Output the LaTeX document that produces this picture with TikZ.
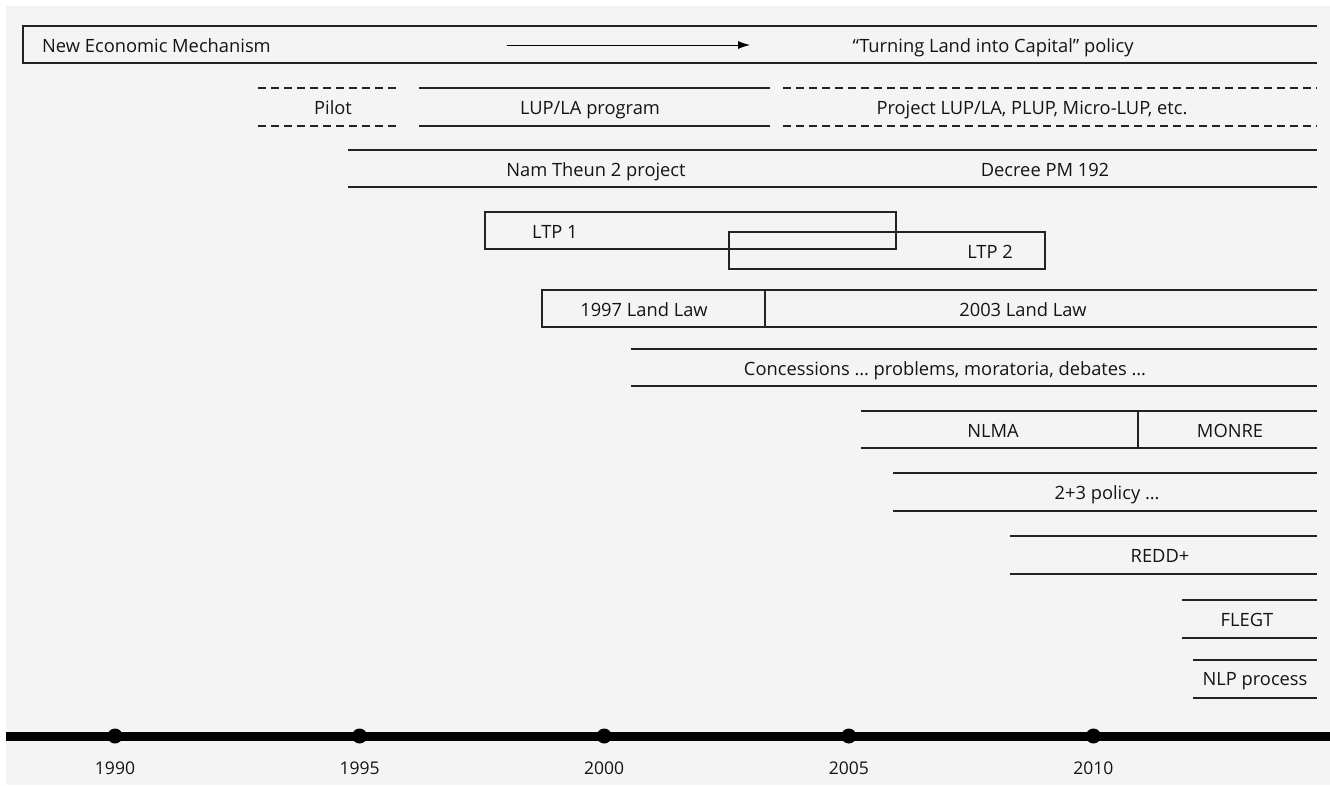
\documentclass[tikz,border=0pt]{standalone}
\usepackage{fontspec}
\setmainfont{Open Sans}
\usepackage{xcolor}
\usetikzlibrary{arrows.meta, positioning}
\definecolor{bggray}{RGB}{244, 244, 244}
\definecolor{inkdark}{RGB}{20, 20, 20}
\definecolor{linedark}{RGB}{35, 35, 35}

\tikzset{
    bar/.style={draw=linedark, line width=1.6pt},
    dashbar/.style={bar, dash pattern=on 8pt off 5pt},
    lbl/.style={font=\fontsize{18.3}{22}\selectfont, text=inkdark, inner sep=0pt, anchor=base},
    yearlbl/.style={lbl, font=\fontsize{17.5}{21}\selectfont},
    yeardot/.style={circle, fill=black, minimum size=15pt, inner sep=0pt}
}

\begin{document}
\begin{tikzpicture}[x=1pt, y=-1pt]
    \useasboundingbox (0,0) rectangle (1330,785);
    % Background
    \fill[white] (0,0) rectangle (1330,785);
    \fill[bggray] (6,6) rectangle (1330,785);

    % New Economic Mechanism / Turning Land into Capital
    \draw[bar] (1317,26) -- (23,26) -- (23,63) -- (1317,63);
    \node[lbl, anchor=base west] (nem) at (42,52) {New Economic Mechanism};
    \coordinate (arrowstart) at (507,45);
    \coordinate (arrowend) at (750,45);
    \draw[line width=0.9pt, -{Latex[length=12pt, width=8pt]}] (arrowstart) -- (arrowend);
    \node[lbl] (tlc) at (993,52) {“Turning Land into Capital” policy};

    % Pilot / LUP/LA program / project LUP
    \draw[dashbar] (258,88) -- (400,88);
    \draw[dashbar] (258,126) -- (400,126);
    \node[lbl] (pilot) at (333,114) {Pilot};
    \draw[bar] (419,88) -- (770,88);
    \draw[bar] (419,126) -- (770,126);
    \node[lbl] (lupla) at (590,114) {LUP/LA program};
    \draw[dashbar] (783,88) -- (1317,88);
    \draw[dashbar] (783,126) -- (1317,126);
    \node[lbl] (projlup) at (1032,114) {Project LUP/LA, PLUP, Micro-LUP, etc.};

    % Nam Theun 2 / Decree PM 192
    \draw[bar] (348,150) -- (1317,150);
    \draw[bar] (348,187) -- (1317,187);
    \node[lbl] (nt2) at (596,176) {Nam Theun 2 project};
    \node[lbl] (pm192) at (1045,176) {Decree PM 192};

    % LTP 1 and LTP 2
    \draw[bar] (485,212) rectangle (896,249);
    \node[lbl, anchor=base west] (ltp1) at (532,238) {LTP 1};
    \draw[bar] (729,232) rectangle (1045,269);
    \node[lbl] (ltp2) at (990,258) {LTP 2};

    % Land laws
    \draw[bar] (1317,290) -- (542,290) -- (542,327) -- (1317,327);
    \draw[bar] (765,290) -- (765,327);
    \node[lbl] (law97) at (644,316) {1997 Land Law};
    \node[lbl] (law03) at (1023,316) {2003 Land Law};

    % Concessions
    \draw[bar] (631,349) -- (1317,349);
    \draw[bar] (631,386) -- (1317,386);
    \node[lbl] (concess) at (945,375) {Concessions … problems, moratoria, debates …};

    % NLMA / MONRE
    \draw[bar] (861,411) -- (1317,411);
    \draw[bar] (861,448) -- (1317,448);
    \draw[bar] (1138,411) -- (1138,448);
    \node[lbl] (nlma) at (993,437) {NLMA};
    \node[lbl] (monre) at (1230,437) {MONRE};

    % 2+3 policy
    \draw[bar] (893,473) -- (1317,473);
    \draw[bar] (893,511) -- (1317,511);
    \node[lbl] (twothree) at (1107,499) {2+3 policy …};

    % REDD+
    \draw[bar] (1010,536) -- (1317,536);
    \draw[bar] (1010,574) -- (1317,574);
    \node[lbl] (redd) at (1160,562) {REDD+};

    % FLEGT
    \draw[bar] (1182,600) -- (1317,600);
    \draw[bar] (1182,638) -- (1317,638);
    \node[lbl] (flegt) at (1247,626) {FLEGT};

    % NLP process
    \draw[bar] (1193,660) -- (1317,660);
    \draw[bar] (1193,698) -- (1317,698);
    \node[lbl] (nlp) at (1255,685) {NLP process};

    % Timeline
    \fill[black] (6,731.5) rectangle (1330,740.5);
    \foreach \yr [count=\i from 0] in {1990,1995,2000,2005,2010} {
        \node[yeardot] (dot\yr) at (115+244.6*\i,736) {};
        \node[yearlbl] (year\yr) at (115+244.6*\i,774) {\yr};
    }
\end{tikzpicture}
\end{document}
